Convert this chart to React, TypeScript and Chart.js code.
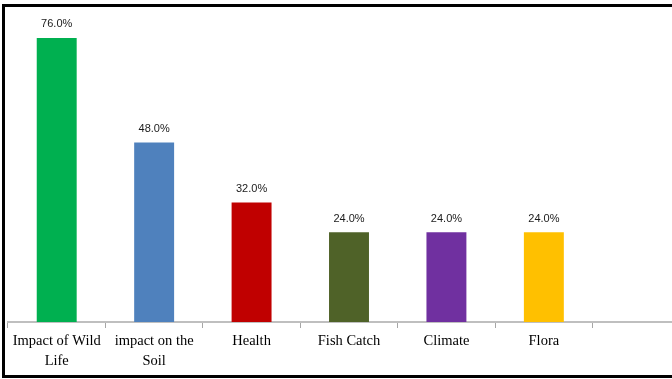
import React, { useEffect, useRef } from "react";
import { Chart, registerables } from "chart.js";

Chart.register(...registerables);

const categories: (string | string[])[] = [
  ["Impact of Wild", "Life"],
  ["impact on the", "Soil"],
  "Health",
  "Fish Catch",
  "Climate",
  "Flora",
  "",
];
const values: (number | null)[] = [76, 48, 32, 24, 24, 24, null];
const colors: string[] = ["#00b050", "#4f81bd", "#c00000", "#4f6228", "#7030a0", "#ffc000", "#ffffff"];

const valueLabels = {
  id: "valueLabels",
  afterDatasetsDraw(chart: any) {
    const ctx = chart.ctx;
    const meta = chart.getDatasetMeta(0);
    ctx.save();
    ctx.font = "11px 'Liberation Sans'";
    ctx.fillStyle = "#1a1a1a";
    ctx.textAlign = "center";
    ctx.textBaseline = "bottom";
    meta.data.forEach((bar: any, i: number) => {
      const v = values[i];
      if (v == null) return;
      ctx.fillText(v.toFixed(1) + "%", bar.x, bar.y - 8);
    });
    ctx.restore();
  },
};

export default function App() {
  const ref = useRef<HTMLCanvasElement>(null);
  useEffect(() => {
    if (!ref.current) return;
    const chart = new Chart(ref.current, {
      type: "bar",
      data: {
        labels: categories,
        datasets: [
          {
            data: values,
            backgroundColor: colors,
            barPercentage: 0.41,
            categoryPercentage: 1,
          },
        ],
      },
      options: {
        animation: false,
        responsive: false,
        maintainAspectRatio: false,
        layout: { padding: { left: 8, top: 23, right: 0, bottom: 0 } },
        plugins: { legend: { display: false }, tooltip: { enabled: false } },
        scales: {
          x: {
            grid: {
              offset: true,
              drawOnChartArea: false,
              drawTicks: true,
              tickLength: 6,
              color: "#a6a6a6",
            },
            border: { display: true, color: "#bfbfbf", width: 2 },
            ticks: {
              color: "#000",
              font: { family: "'Liberation Serif'", size: 14.5, lineHeight: 1.4 },
              padding: 3,
              maxRotation: 0,
              autoSkip: false,
            },
            afterFit(scale: any) {
              scale.height = 57;
            },
          },
          y: {
            display: false,
            min: 0,
            max: 80,
          },
        },
      },
      plugins: [valueLabels],
    });
    return () => chart.destroy();
  }, []);

  return (
    <div
      style={{
        position: "fixed",
        left: 0,
        top: 0,
        width: 672,
        height: 379,
        overflow: "hidden",
        background: "#fff",
      }}
    >
      <canvas
        ref={ref}
        width={690}
        height={379}
        style={{ position: "absolute", left: 0, top: 0, width: 690, height: 379 }}
      />
      <div
        style={{
          position: "absolute",
          left: 2,
          top: 4,
          width: 720,
          height: 368,
          borderTop: "3px solid #000",
          borderLeft: "3px solid #000",
          borderBottom: "3px solid #000",
          pointerEvents: "none",
        }}
      />
    </div>
  );
}
